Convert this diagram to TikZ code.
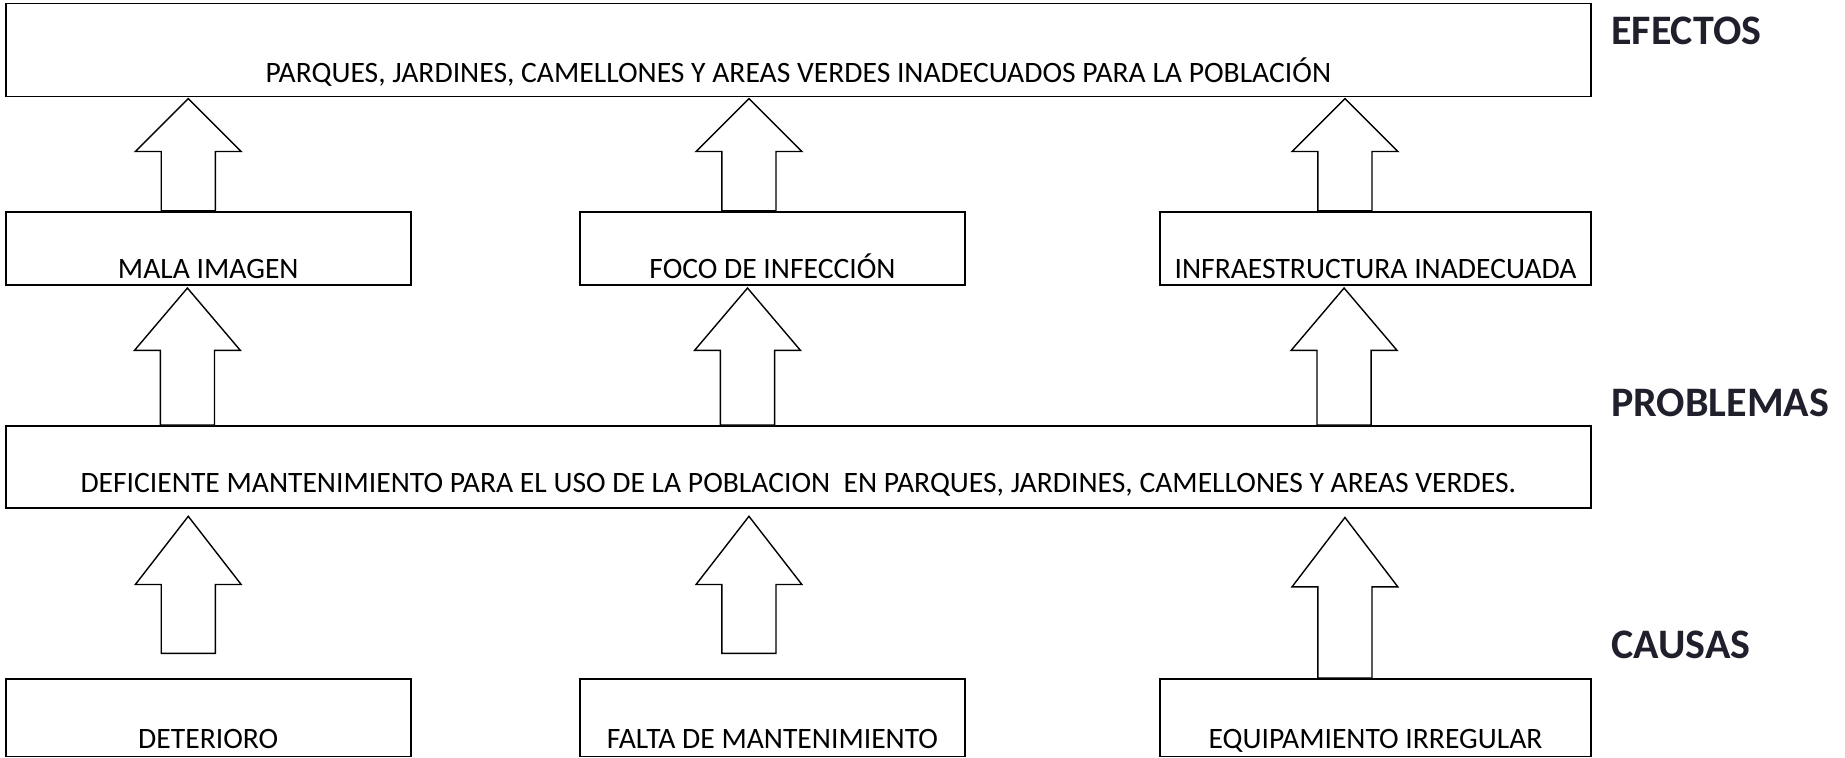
\documentclass[tikz,border=0pt]{standalone}
\usepackage{fontspec}
\setmainfont{Carlito}
\usetikzlibrary{calc}
\usetikzlibrary{positioning}
\definecolor{tinta}{RGB}{32,32,44}
\tikzset{
x=0.5883pt, y=-0.5883pt, % same units as the scanned sheet, y going down
caja/.style={draw, line width=0.9pt, inner sep=0pt, font=\fontsize{14.8}{17}\selectfont}, % every box
ancho/.style={minimum width=#1}, % width of a box
alto/.style 2 args={text height=#1, text depth=#2}, % height of a box, text sits low
bloque/.style={draw, line width=0.7pt, fill=white}, % the hollow arrows
etiqueta/.style={font=\fontsize{21}{24}\selectfont\bfseries, text=tinta, anchor=west, inner sep=0pt}, % titles on the right
}

\begin{document}
\begin{tikzpicture}
            \useasboundingbox (0,0) rectangle (1568,644);

            \node[caja, ancho=792.4pt, alto={39.6pt}{6.9pt}] (efecto) at (678.5,42.5) {PARQUES, JARDINES, CAMELLONES Y AREAS VERDES INADECUADOS PARA LA POBLACIÓN};

            \node[caja, ancho=202.4pt, alto={33.2pt}{3.3pt}] (mala) at (177,211) {MALA IMAGEN};
            \node[caja, ancho=192.4pt, alto={33.2pt}{3.3pt}] (foco) at (656.5,211) {FOCO DE INFECCIÓN};
            \node[caja, ancho=215.3pt, alto={33.2pt}{3.3pt}] (infra) at (1169,211) {INFRAESTRUCTURA INADECUADA};

            \node[caja, ancho=792.4pt, alto={33.1pt}{8.1pt}] (problema) at (678.5,397) {DEFICIENTE MANTENIMIENTO PARA EL USO DE LA POBLACION~ EN PARQUES, JARDINES, CAMELLONES Y AREAS VERDES.};

            \node[caja, ancho=202.4pt, alto={35pt}{3.8pt}] (deterioro) at (177,610) {DETERIORO};
            \node[caja, ancho=192.4pt, alto={35pt}{3.8pt}] (falta) at (656.5,610) {FALTA DE MANTENIMIENTO};
            \node[caja, ancho=215.3pt, alto={35pt}{3.8pt}] (equipo) at (1169,610) {EQUIPAMIENTO IRREGULAR};

            \node[etiqueta] (efectos) at (1369,26) {EFECTOS};
            \node[etiqueta] (problemas) at (1369,342) {PROBLEMAS};
            \node[etiqueta] (causas) at (1369,548) {CAUSAS};

            % feet of the arrows
            \coordinate (f1) at ($(mala.north)+(-17,0)$);
            \coordinate (f2) at ($(foco.north)+(-20,0)$);
            \coordinate (f3) at ($(infra.north)+(-26,0)$);
            \coordinate (h1) at ($(problema.north west)+(155,0)$);
            \coordinate (h2) at ($(problema.north west)+(631,0)$);
            \coordinate (h3) at ($(problema.north west)+(1138,0)$);
            \coordinate (g1) at ($(deterioro.north)+(-17,-21)$);
            \coordinate (g2) at ($(falta.north)+(-20,-21)$);
            \coordinate (g3) at ($(equipo.north)+(-26,0)$);

            \foreach \pie/\cima/\hueco/\cab in {f1/efecto/1/45, f2/efecto/1/45, f3/efecto/1/45,
                h1/mala/2/53, h2/foco/2/53, h3/infra/2/53,
                g1/problema/6/58, g2/problema/6/58, g3/problema/7/59}{
                \coordinate (punta) at ($(\pie |- \cima.south)+(0,\hueco)$);
                \draw[bloque] ($(\pie)+(-23,0)$) -- ($(punta)+(-23,\cab)$) -- ($(punta)+(-45,\cab)$)
                    -- (punta) -- ($(punta)+(45,\cab)$) -- ($(punta)+(23,\cab)$) -- ($(\pie)+(23,0)$) -- cycle;
            }
        \end{tikzpicture}
\end{document}
